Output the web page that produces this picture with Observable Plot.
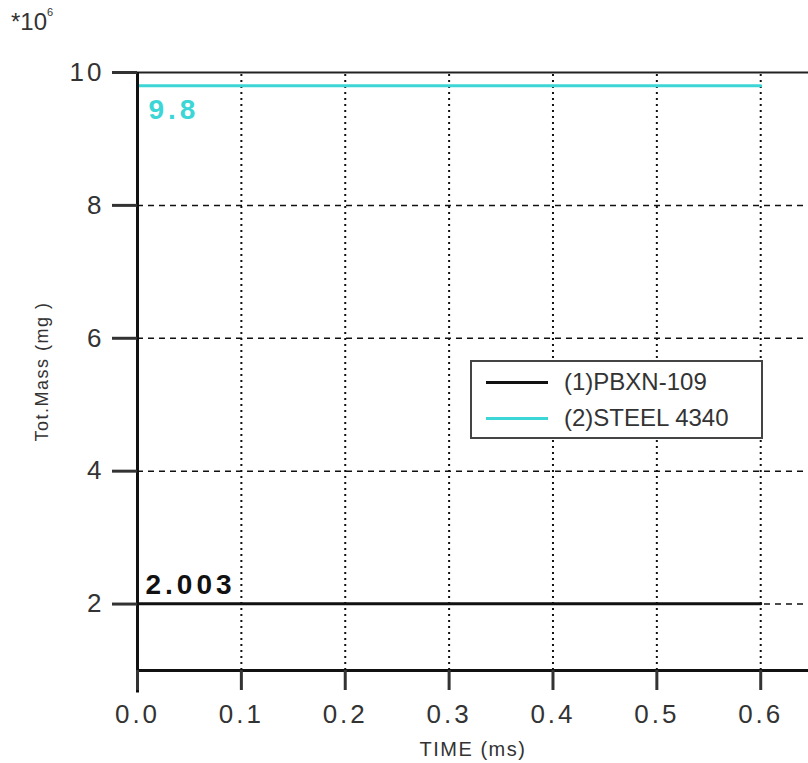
<!DOCTYPE html>
<html><head><meta charset="utf-8">
<script src="https://cdn.jsdelivr.net/npm/d3@7"></script>
<script src="https://cdn.jsdelivr.net/npm/@observablehq/plot@0.6"></script>
<style>
body{margin:0;background:#fff;font-family:"Liberation Sans",Arial,sans-serif;}
#wrap{position:relative;width:808px;height:763px;overflow:hidden;}
#exp{position:absolute;left:11px;top:8px;font-size:24px;color:#333;}
#exp sup{font-size:11px;position:relative;top:-5px;}
#legend{position:absolute;left:470px;top:360px;width:289px;height:75px;border:2px solid #444;background:#fff;box-sizing:content-box;}
.li{position:absolute;left:14px;display:flex;align-items:center;font-size:24px;color:#333;white-space:nowrap;}
.li span.sw{display:inline-block;flex-shrink:0;width:62px;height:3px;margin-right:16px;}
.vlbl text{letter-spacing:4px;}
.tlbl text{letter-spacing:1.5px;}
</style></head>
<body><div id="wrap"></div>
<script>
const time = [0, 0.6];
const pbxn = [2.003, 2.003];
const steel = [9.8, 9.8];
const seriesNames = ["(1)PBXN-109", "(2)STEEL 4340"];
const seriesColors = ["#111111", "#3cd6d6"];
const xTicks = [0, 0.1, 0.2, 0.3, 0.4, 0.5, 0.6];
const yTicks = [2, 4, 6, 8, 10];
const yGrid = [2, 4, 6, 8];
const labelPBXN = "2.003";
const labelSteel = "9.8";

const rows = [];
time.forEach((t, i) => { rows.push({t, v: pbxn[i], s: seriesNames[0]}); rows.push({t, v: steel[i], s: seriesNames[1]}); });

const font = "Liberation Sans, Arial, sans-serif";
const chart = Plot.plot({
  width: 808, height: 763,
  marginLeft: 137, marginTop: 72, marginBottom: 93, marginRight: 0,
  style: {fontFamily: font, background: "#fff", color: "#222", overflow: "visible"},
  x: {domain: [0, 0.646]},
  y: {domain: [1, 10]},
  marks: [
    Plot.ruleX(xTicks.slice(1), {y1: 1, y2: 10, stroke: "#111", strokeWidth: 2, strokeDasharray: "2,4"}),
    Plot.ruleY(yGrid, {stroke: "#111", strokeWidth: 1.5, strokeDasharray: "6,5"}),
    Plot.line(rows, {x: "t", y: "v", z: "s", stroke: d => d.s === seriesNames[0] ? seriesColors[0] : seriesColors[1], strokeWidth: 3}),
    Plot.ruleY([10], {stroke: "#222", strokeWidth: 2}),
    Plot.ruleY([1], {stroke: "#111", strokeWidth: 3}),
    Plot.ruleX([0], {y1: 0.66, y2: 10, stroke: "#111", strokeWidth: 3}),
    Plot.text([labelSteel], {x: time[0], y: steel[0], text: d => d, dx: 11, dy: 24, textAnchor: "start", fill: seriesColors[1], fontWeight: "bold", fontSize: 28, className: "vlbl"}),
    Plot.text([labelPBXN], {x: time[0], y: pbxn[0], text: d => d, dx: 8, dy: -19, textAnchor: "start", fill: "#111", fontWeight: "bold", fontSize: 28, className: "vlbl"}),
    Plot.axisY({ticks: yTicks, tickSize: 25, tickPadding: 8, fontSize: 26, strokeWidth: 3, label: "Tot.Mass (mg )", labelArrow: "none", labelAnchor: "center", labelOffset: 102, color: "#333"}),
    Plot.axisX({ticks: xTicks, tickFormat: d3.format(".1f"), tickSize: 20, tickPadding: 14, fontSize: 26, strokeWidth: 3, label: null, color: "#333"}),
    Plot.text(["TIME (ms)"], {frameAnchor: "bottom", dy: 85, text: d => d, fontSize: 20, fill: "#333", className: "tlbl"})
  ]
});
const wrap = document.getElementById("wrap");
wrap.appendChild(chart);
d3.select(chart).selectAll("g[aria-label='y-axis label']").attr("font-size", 18).style("letter-spacing", "1.5px");
d3.select(chart).selectAll("g[aria-label='y-axis label'] text").attr("font-size", 18);
d3.select(chart).selectAll("g[aria-label='y-axis tick label'], g[aria-label='x-axis tick label']").style("letter-spacing", "3px");

const exp = document.createElement("div");
exp.id = "exp"; exp.innerHTML = "*10<sup>6</sup>";
wrap.appendChild(exp);

const lg = document.createElement("div");
lg.id = "legend";
seriesNames.forEach((n, i) => {
  const it = document.createElement("div");
  it.className = "li"; it.style.top = (i === 0 ? 6 : 42) + "px";
  it.innerHTML = `<span class="sw" style="background:${seriesColors[i]}"></span>${n}`;
  lg.appendChild(it);
});
wrap.appendChild(lg);
</script></body></html>
